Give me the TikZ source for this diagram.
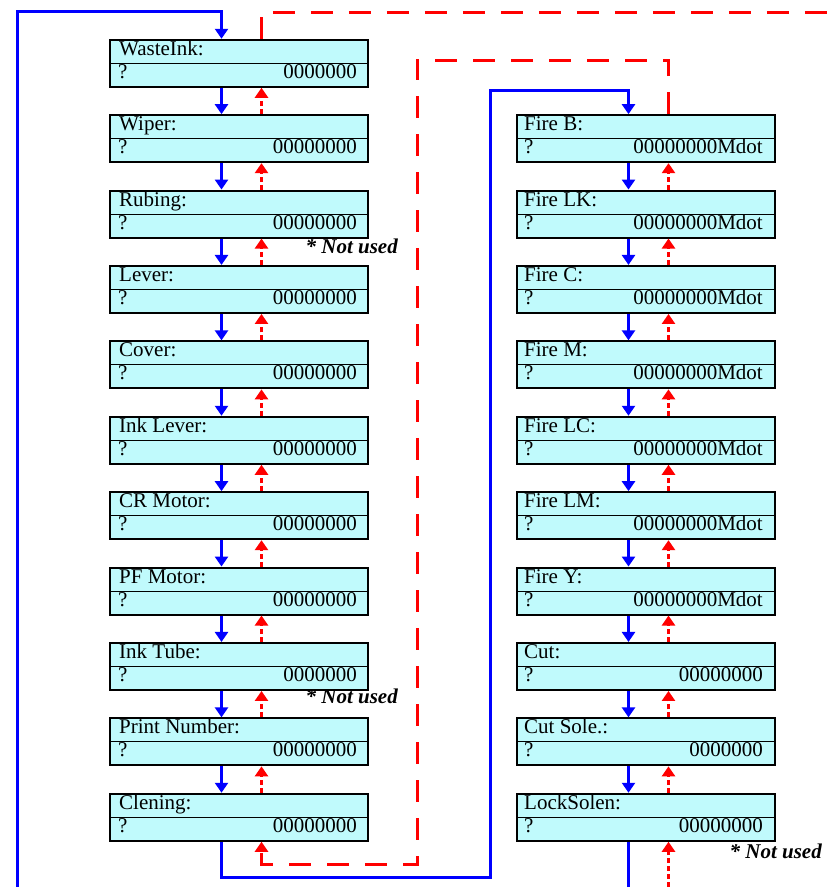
\documentclass[tikz,border=0pt]{standalone}
\usepackage{fontspec}
\setmainfont{Liberation Serif}
\usetikzlibrary{arrows.meta,calc}
\definecolor{panelcyan}{HTML}{C0FAFC}

\begin{document}
\begin{tikzpicture}[x=1pt,y=-1pt,
  panel/.style={draw=black, line width=2pt, fill=panelcyan,
    minimum width=258pt, minimum height=47pt, inner sep=0pt},
  txt/.style={inner sep=0pt, font=\fontsize{21}{24}\selectfont},
  note/.style={inner sep=0pt, font=\fontsize{21}{24}\selectfont\bfseries\itshape},
  fwd/.style={blue, line width=3pt, -{Triangle[width=13pt,length=10pt]}},
  back/.style={red, line width=3pt, dash pattern=on 5pt off 3pt,
    -{Triangle[width=13pt,length=10pt]}},
  backlong/.style={red, line width=3pt, dash pattern=on 22pt off 16pt}
]
\useasboundingbox (0,0) rectangle (834,887);

% left column of counters
\foreach \nm/\val [count=\k from 0] in {WasteInk:/0000000, Wiper:/00000000,
    Rubing:/00000000, Lever:/00000000, Cover:/00000000, Ink Lever:/00000000,
    CR Motor:/00000000, PF Motor:/00000000, Ink Tube:/0000000,
    Print Number:/00000000, Clening:/00000000} {
  \pgfmathsetmacro\yc{63.25+75.4*\k}
  \node[panel] (L\k) at (239,\yc) {};
  \draw[line width=1pt] (L\k.west) -- (L\k.east);
  \node[txt, anchor=base west] (Lt\k) at ($(L\k.north west)+(10,16.5)$) {\nm};
  \node[txt, anchor=base west] (Lq\k) at ($(L\k.north west)+(9,39.5)$) {?};
  \node[txt, anchor=base east] (Lv\k) at ($(L\k.north east)+(-12,39.5)$) {\val};
}

% right column of counters
\foreach \nm/\val [count=\k from 0] in {Fire B:/00000000Mdot,
    Fire LK:/00000000Mdot, Fire C:/00000000Mdot, Fire M:/00000000Mdot,
    Fire LC:/00000000Mdot, Fire LM:/00000000Mdot, Fire Y:/00000000Mdot,
    Cut:/00000000, Cut Sole.:/0000000, LockSolen:/00000000} {
  \pgfmathsetmacro\yc{138.65+75.4*\k}
  \node[panel] (R\k) at (646,\yc) {};
  \draw[line width=1pt] (R\k.west) -- (R\k.east);
  \node[txt, anchor=base west] (Rt\k) at ($(R\k.north west)+(8,16.5)$) {\nm};
  \node[txt, anchor=base west] (Rq\k) at ($(R\k.north west)+(8,39.5)$) {?};
  \node[txt, anchor=base east] (Rv\k) at ($(R\k.north east)+(-13,39.5)$) {\val};
}

% arrows between neighbours
\foreach \k [evaluate=\k as \n using int(\k+1)] in {0,...,9} {
  \draw[fwd] ([xshift=-17.5pt]L\k.south) -- ([xshift=-17.5pt]L\n.north);
  \draw[back] ([xshift=22.5pt]L\n.north) -- ([xshift=22.5pt]L\k.south);
}
\foreach \k [evaluate=\k as \n using int(\k+1)] in {0,...,8} {
  \draw[fwd] ([xshift=-17.5pt]R\k.south) -- ([xshift=-17.5pt]R\n.north);
  \draw[back] ([xshift=22.5pt]R\n.north) -- ([xshift=22.5pt]R\k.south);
}

% loops round the columns
\coordinate (blueIn) at (17,887);
\coordinate (blueOut) at (628.5,887);
\coordinate (redIn) at (668.5,887);
\coordinate (redOut) at (834,12);

\draw[fwd] (blueIn) -- (17,11) -| ([xshift=-17.5pt]L0.north);
\draw[fwd] ([xshift=-17.5pt]L10.south) -- ++(0,36) -| (490,90)
  -| ([xshift=-17.5pt]R0.north);
\draw[blue, line width=3pt] ([xshift=-17.5pt]R9.south) -- (blueOut);

\draw[backlong] ([xshift=22.5pt]L0.north) |- (redOut);
\draw[backlong, -{Triangle[width=13pt,length=10pt]}] ([xshift=22.5pt]R0.north)
  |- (417,60) -- (417,864) -| ([xshift=22.5pt]L10.south);
\draw[back] (redIn) -- ([xshift=22.5pt]R9.south);

% notes
\node[note, anchor=base east] (nu1) at ($(L2.south east)+(29,15)$) {* Not used};
\node[note, anchor=base east] (nu2) at ($(L8.south east)+(29,13)$) {* Not used};
\node[note, anchor=base east] (nu3) at ($(R9.south east)+(46,17)$) {* Not used};

\end{tikzpicture}
\end{document}
